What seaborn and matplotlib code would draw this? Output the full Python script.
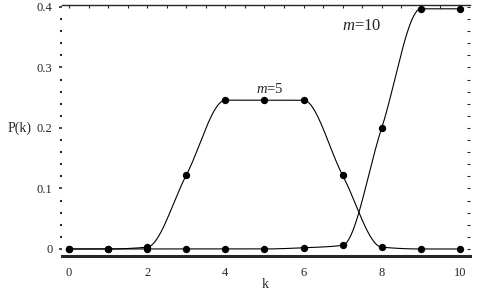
import numpy as np
import pandas as pd
import matplotlib
matplotlib.use("Agg")
import matplotlib.pyplot as plt
import seaborn as sns
from matplotlib.ticker import MultipleLocator, FixedLocator, NullFormatter

# values
k = [0, 1, 2, 3, 4, 5, 6, 7, 8, 9, 10]
p_m5 = [0.0, 0.0, 0.003, 0.122, 0.246, 0.246, 0.246, 0.122, 0.003, 0.0, 0.0]
p_m10 = [0.0, 0.0, 0.0, 0.0, 0.0, 0.0, 0.002, 0.006, 0.2, 0.397, 0.397]
x_ticks = [0, 2, 4, 6, 8, 10]
y_ticks = [0, 0.1, 0.2, 0.3, 0.4]
y_tick_labels = ["0", "0.1", "0.2", "0.3", "0.4"]


def pchip(x, y, xs):
    # monotone cubic through the points, only used to draw the smooth line
    x = np.asarray(x, float)
    y = np.asarray(y, float)
    h = np.diff(x)
    d = np.diff(y) / h
    m = np.zeros_like(y)
    for i in range(1, len(x) - 1):
        if d[i - 1] * d[i] > 0:
            m[i] = 2.0 / (1.0 / d[i - 1] + 1.0 / d[i])
    m[0] = d[0]
    m[-1] = d[-1]
    idx = np.clip(np.searchsorted(x, xs) - 1, 0, len(x) - 2)
    t = (xs - x[idx]) / h[idx]
    h00 = 2 * t**3 - 3 * t**2 + 1
    h10 = t**3 - 2 * t**2 + t
    h01 = -2 * t**3 + 3 * t**2
    h11 = t**3 - t**2
    return h00 * y[idx] + h10 * h[idx] * m[idx] + h01 * y[idx + 1] + h11 * h[idx] * m[idx + 1]


sns.set_style("ticks")
plt.rcParams["font.family"] = ["Liberation Serif", "DejaVu Serif"]
plt.rcParams["mathtext.fontset"] = "custom"
plt.rcParams["mathtext.it"] = "Liberation Serif:italic"
plt.rcParams["mathtext.rm"] = "Liberation Serif"

fig = plt.figure(figsize=(4.78, 2.99), dpi=100)
ax = fig.add_axes([62 / 478, 1 - 256 / 299, 408 / 478, 251 / 299])

xs = np.linspace(0, 10, 801)
curves = pd.concat([
    pd.DataFrame({"k": xs, "P": pchip(k, p_m5, xs), "m": "5"}),
    pd.DataFrame({"k": xs, "P": pchip(k, p_m10, xs), "m": "10"}),
])
points = pd.concat([
    pd.DataFrame({"k": k, "P": p_m5, "m": "5"}),
    pd.DataFrame({"k": k, "P": p_m10, "m": "10"}),
])

sns.lineplot(data=curves, x="k", y="P", units="m", estimator=None,
             color="black", lw=0.8, ax=ax)
sns.scatterplot(data=points, x="k", y="P", color="black", s=28,
                edgecolor="black", linewidth=0, ax=ax, zorder=3)

ax.set_xlim(-0.18, 10.26)
ax.set_ylim(-0.0116, 0.4033)
ax.set_xlabel("")
ax.set_ylabel("")

ax.xaxis.set_major_locator(FixedLocator(x_ticks))
ax.set_xticklabels([str(v) for v in x_ticks])
ax.yaxis.set_major_locator(FixedLocator(y_ticks))
ax.set_yticklabels(y_tick_labels)
ax.yaxis.set_minor_locator(MultipleLocator(0.02))

ax.tick_params(axis="x", length=0, pad=8, labelsize=9)
ax.tick_params(axis="y", which="major", direction="out", length=2, width=1.2,
               pad=5, labelsize=9)
ax.tick_params(axis="y", which="minor", direction="out", length=1.3, width=1.5)

for s in ["left", "right"]:
    ax.spines[s].set_visible(False)
ax.spines["top"].set_linewidth(1.0)
ax.spines["bottom"].set_linewidth(2.2)

top = ax.secondary_xaxis("top")
top.xaxis.set_major_locator(MultipleLocator(0.5))
top.xaxis.set_major_formatter(NullFormatter())
top.tick_params(direction="in", length=2, width=0.8)
top.spines["top"].set_visible(False)

right = ax.secondary_yaxis("right")
right.yaxis.set_major_locator(MultipleLocator(0.02))
right.yaxis.set_major_formatter(NullFormatter())
right.tick_params(direction="in", length=2, width=0.8)
right.spines["right"].set_visible(False)

ax.text(5.14, 0.264, r"$m$=5", fontsize=10.5, ha="center", va="center")
ax.text(7.5, 0.368, r"$m$=10", fontsize=12, ha="center", va="center")

fig.text(20 / 478, 1 - 128 / 299, "P(k)", fontsize=10, ha="center", va="center")
fig.text(265 / 478, 1 - 285 / 299, "k", fontsize=10, ha="center", va="center")

fig.savefig("out.png", dpi=100)
